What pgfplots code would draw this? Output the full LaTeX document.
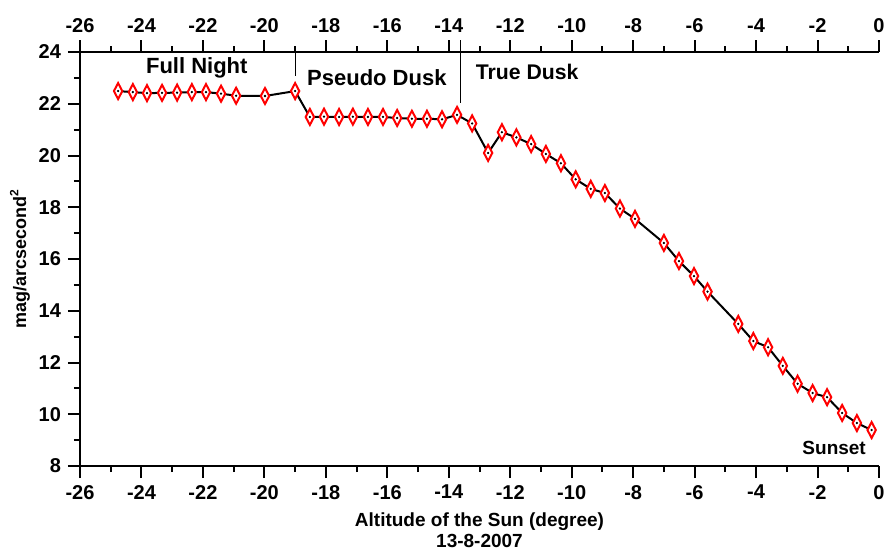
\documentclass[border=0pt]{standalone}
\usepackage{fontspec}
\setmainfont{Liberation Sans}
\usepackage{pgfplots}
\usepackage{pgfplotstable}
\pgfplotsset{compat=1.18}

% narrow diamond used for the readings
\pgfdeclareplotmark{ndiamond}{%
  \pgfpathmoveto{\pgfqpoint{0pt}{4pt}}%
  \pgfpathlineto{\pgfqpoint{2.1pt}{0pt}}%
  \pgfpathlineto{\pgfqpoint{0pt}{-4pt}}%
  \pgfpathlineto{\pgfqpoint{-2.1pt}{0pt}}%
  \pgfpathclose
  \pgfusepathqfillstroke
}

\pgfplotstableread{
alt   sqm
-24.76 22.49
-24.28 22.45
-23.82 22.41
-23.33 22.42
-22.84 22.43
-22.36 22.45
-21.90 22.45
-21.41 22.39
-20.92 22.31
-19.98 22.30
-19.00 22.49
-18.52 21.49
-18.06 21.50
-17.57 21.49
-17.12 21.50
-16.63 21.49
-16.14 21.49
-15.68 21.45
-15.20 21.42
-14.71 21.42
-14.22 21.40
-13.73 21.57
-13.24 21.24
-12.72 20.10
-12.27 20.90
-11.80 20.70
-11.32 20.44
-10.84 20.06
-10.35 19.70
-9.87 19.08
-9.38 18.71
-8.92 18.55
-8.43 17.95
-7.94 17.55
-7.00 16.62
-6.51 15.92
-6.02 15.34
-5.58 14.74
-4.58 13.49
-4.09 12.83
-3.61 12.59
-3.13 11.87
-2.65 11.18
-2.16 10.82
-1.69 10.66
-1.20 10.05
-0.72 9.66
-0.24 9.39
}\sqmdata

\begin{document}
\begin{tikzpicture}
\pgfplotsset{
  skyaxis/.style={
    scale only axis,
    width=399.5pt, height=207pt,
    xmin=-26, xmax=0, ymin=8, ymax=24,
    xtick={-26,-24,...,0},
    minor xtick={-25,-23,...,-1},
    ytick={8,10,...,24},
    minor ytick={9,11,...,23},
    major tick length=6pt,
    minor tick length=3pt,
    every tick/.style={black, line width=1pt},
    tick label style={font=\bfseries\fontsize{10}{12}\selectfont},
    /pgf/number format/assume math mode=true,
  },
  plainlines/.style={
    tick align=outside,
    axis line style={line width=1pt, -},
    every outer x axis line/.append style={-},
    every outer y axis line/.append style={-},
    every inner x axis line/.append style={-},
    every inner y axis line/.append style={-},
  }
}
% bottom and left axes with the data
\begin{axis}[
  skyaxis,
  name=ax,
  axis x line=bottom,
  axis y line=left,
  plainlines,
  clip=false,
  xlabel={Altitude of the Sun (degree)\\13-8-2007},
  xlabel style={font=\bfseries\fontsize{9.5}{10.5}\selectfont, align=center},
  ylabel={mag/arcsecond\textsuperscript{2}},
  ylabel style={font=\bfseries\fontsize{9}{10}\selectfont, yshift=-2.5pt},
]
  \addplot[black, line width=1pt, mark=ndiamond,
    mark options={draw=red, fill=white, line width=1pt}]
    table[x=alt, y=sqm] {\sqmdata};
  \addplot[only marks, mark=*, mark size=0.35pt, black]
    table[x=alt, y=sqm] {\sqmdata};

  % phase separators
  \draw[black, line width=0.5pt] (axis cs:-19.0,24) -- (axis cs:-19.0,23.07);
  \draw[black, line width=0.5pt] (axis cs:-13.63,24.46) -- (axis cs:-13.63,22.03);

  \node[font=\bfseries\fontsize{11}{13}\selectfont] at (axis cs:-22.2,23.38) {Full Night};
  \node[font=\bfseries\fontsize{11}{13}\selectfont] at (axis cs:-16.34,23.0) {Pseudo Dusk};
  \node[font=\bfseries\fontsize{10.6}{12}\selectfont] at (axis cs:-11.45,23.23) {True Dusk};
  \node[font=\bfseries\fontsize{9.5}{11}\selectfont] at (axis cs:-1.46,8.7) {Sunset};
\end{axis}
% top axis carrying the same altitude scale
\begin{axis}[
  skyaxis,
  at={(ax.south west)}, anchor=south west,
  axis x line=top,
  axis y line=none,
  plainlines,
]
  \addplot[draw=none] coordinates {(-26,8) (0,24)};
\end{axis}
\path (ax.south west) ++(-40pt,-41.5pt) coordinate (bbl);
\path (ax.north east) ++(8.5pt,26pt) coordinate (bbr);
\path[use as bounding box] (bbl) rectangle (bbr);
\end{tikzpicture}
\end{document}
